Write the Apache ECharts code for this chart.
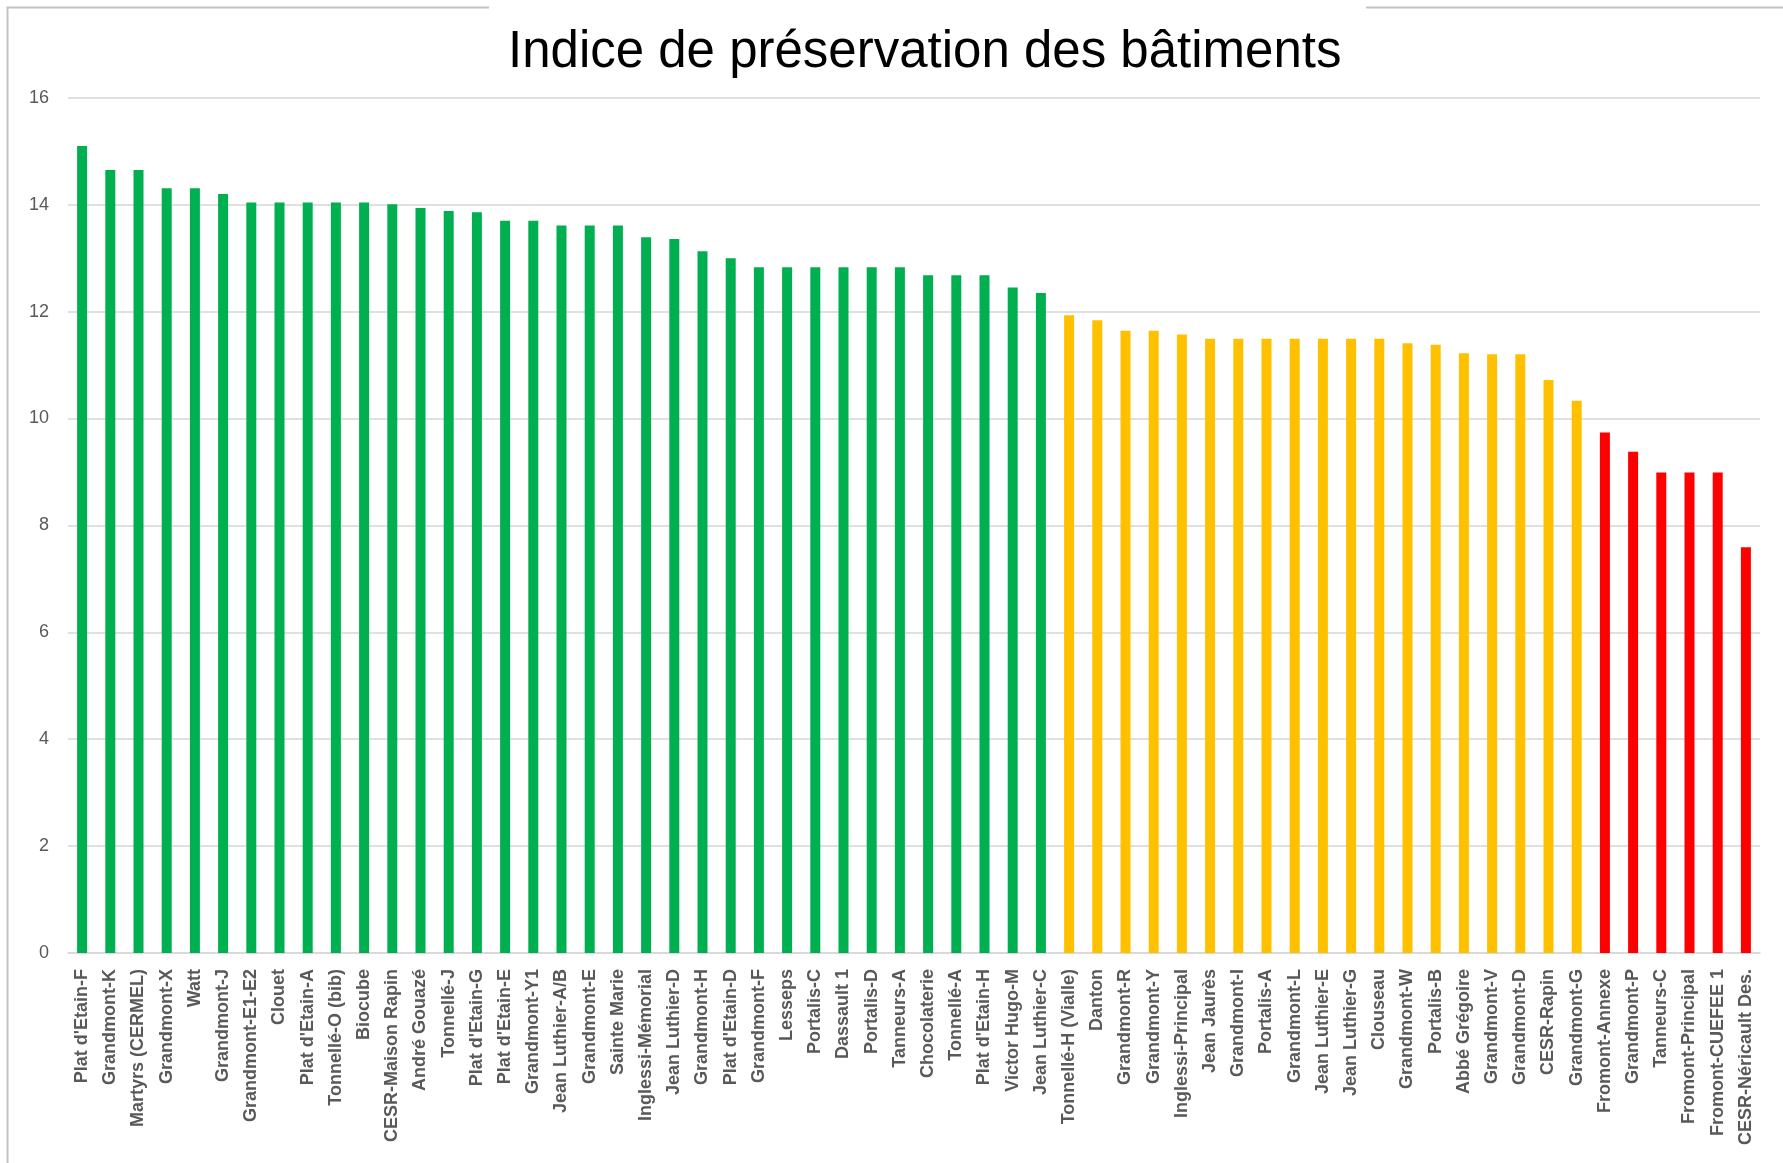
<!DOCTYPE html>
<html>
<head>
<meta charset="utf-8">
<script src="https://cdn.jsdelivr.net/npm/echarts@6/dist/echarts.min.js"></script>
<style>
  html, body { margin: 0; padding: 0; background: #fff; }
  #chart { width: 1783px; height: 1163px; }
</style>
</head>
<body>
<div id="chart"></div>
<script>
const titleText = "Indice de préservation des bâtiments";

const categories = [
  "Plat d'Etain-F", "Grandmont-K", "Martyrs (CERMEL)", "Grandmont-X", "Watt",
  "Grandmont-J", "Grandmont-E1-E2", "Clouet", "Plat d'Etain-A", "Tonnellé-O (bib)",
  "Biocube", "CESR-Maison Rapin", "André Gouazé", "Tonnellé-J", "Plat d'Etain-G",
  "Plat d'Etain-E", "Grandmont-Y1", "Jean Luthier-A/B", "Grandmont-E", "Sainte Marie",
  "Inglessi-Mémorial", "Jean Luthier-D", "Grandmont-H", "Plat d'Etain-D", "Grandmont-F",
  "Lesseps", "Portalis-C", "Dassault 1", "Portalis-D", "Tanneurs-A",
  "Chocolaterie", "Tonnellé-A", "Plat d'Etain-H", "Victor Hugo-M", "Jean Luthier-C",
  "Tonnellé-H (Vialle)", "Danton", "Grandmont-R", "Grandmont-Y", "Inglessi-Principal",
  "Jean Jaurès", "Grandmont-I", "Portalis-A", "Grandmont-L", "Jean Luthier-E",
  "Jean Luthier-G", "Clouseau", "Grandmont-W", "Portalis-B", "Abbé Grégoire",
  "Grandmont-V", "Grandmont-D", "CESR-Rapin", "Grandmont-G", "Fromont-Annexe",
  "Grandmont-P", "Tanneurs-C", "Fromont-Principal", "Fromont-CUEFEE 1", "CESR-Néricault Des."
];

const values = [
  15.10, 14.65, 14.65, 14.31, 14.31,
  14.20, 14.04, 14.04, 14.04, 14.04,
  14.04, 14.01, 13.94, 13.88, 13.86,
  13.70, 13.70, 13.61, 13.61, 13.61,
  13.39, 13.36, 13.13, 13.00, 12.83,
  12.83, 12.83, 12.83, 12.83, 12.83,
  12.68, 12.68, 12.68, 12.45, 12.35,
  11.93, 11.84, 11.64, 11.64, 11.57,
  11.49, 11.49, 11.49, 11.49, 11.49,
  11.49, 11.49, 11.41, 11.38, 11.22,
  11.20, 11.20, 10.72, 10.33, 9.74,
  9.38, 8.99, 8.99, 8.99, 7.59
];

const yTicks = [0, 2, 4, 6, 8, 10, 12, 14, 16];

const GREEN = '#00B050', YELLOW = '#FFC000', RED = '#FF0000';
function colorFor(v) {
  if (v >= 12) return GREEN;
  if (v >= 10) return YELLOW;
  return RED;
}

const chart = echarts.init(document.getElementById('chart'), null, { renderer: 'canvas' });

chart.setOption({
  animation: false,
  backgroundColor: '#ffffff',
  title: {
    text: titleText,
    left: 508,
    top: 27,
    padding: 0,
    textStyle: {
      fontFamily: 'Liberation Sans, Arial, sans-serif',
      fontSize: 51,
      fontWeight: 'normal',
      color: '#000000'
    }
  },
  graphic: [
    {
      type: 'polyline',
      silent: true,
      z: -1,
      shape: { points: [[489, 7.5], [7.5, 7.5], [7.5, 1163]] },
      style: { stroke: '#c2c2c2', lineWidth: 2, fill: null }
    },
    {
      type: 'line',
      silent: true,
      z: -1,
      shape: { x1: 1366, y1: 7.5, x2: 1783, y2: 7.5 },
      style: { stroke: '#c2c2c2', lineWidth: 2 }
    }
  ],
  grid: {
    left: 68,
    right: 23,
    top: 97.8,
    bottom: 210,
    containLabel: false
  },
  xAxis: {
    type: 'category',
    data: categories,
    axisTick: { show: false },
    axisLine: { show: true, lineStyle: { color: '#d6d6d6', width: 1.5 } },
    axisLabel: {
      interval: 0,
      rotate: 90,
      margin: 16,
      fontFamily: 'Liberation Sans, Arial, sans-serif',
      fontSize: 18,
      fontWeight: 'bold',
      color: '#595959'
    }
  },
  yAxis: {
    type: 'value',
    min: yTicks[0],
    max: yTicks[yTicks.length - 1],
    interval: yTicks[1] - yTicks[0],
    axisLine: { show: false },
    axisTick: { show: false },
    splitLine: { show: true, lineStyle: { color: '#d6d6d6', width: 1.5 } },
    axisLabel: {
      margin: 19,
      fontFamily: 'Liberation Sans, Arial, sans-serif',
      fontSize: 18,
      color: '#595959'
    }
  },
  series: [
    {
      type: 'bar',
      data: values,
      barWidth: 10,
      itemStyle: {
        color: function (p) { return colorFor(p.value); }
      }
    }
  ]
});
</script>
</body>
</html>
